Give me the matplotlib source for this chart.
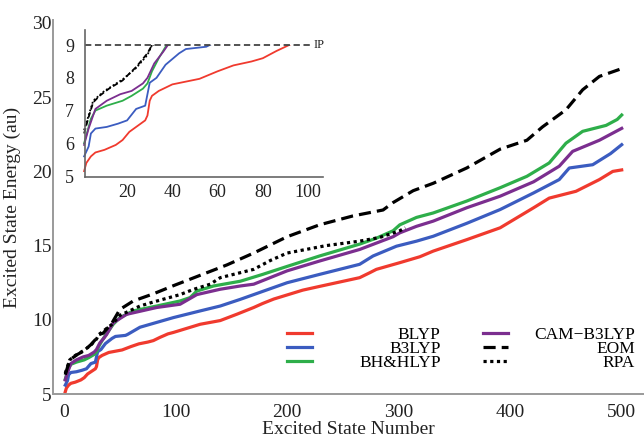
import numpy as np
import matplotlib
matplotlib.use("Agg")
import matplotlib.pyplot as plt
from matplotlib.patches import Rectangle

plt.rcParams['font.family'] = ['Liberation Serif', 'DejaVu Serif']
plt.rcParams['mathtext.fontset'] = 'stix'

# Excited-state energies (au) against state number, per method
blyp_n = [1, 2, 4, 6, 10, 15, 18, 21, 25, 28, 29, 30, 31, 34, 40, 52, 60, 67, 75, 80, 86, 90, 93,
          98, 122, 140, 155, 170, 178, 188, 214, 229, 265, 274, 280, 301, 319, 331, 361, 391,
          421, 435, 459, 480, 492, 500]
blyp_e = [5.15, 5.4, 5.6, 5.72, 5.8, 5.95, 6.1, 6.35, 6.55, 6.7, 6.85, 7.3, 7.45, 7.6, 7.8, 7.97,
          8.2, 8.38, 8.5, 8.6, 8.82, 8.95, 9.05, 9.15, 9.7, 9.95, 10.38, 10.83, 11.1, 11.4, 12.0,
          12.25, 12.84, 13.17, 13.4, 13.85, 14.25, 14.63, 15.4, 16.2, 17.55, 18.2, 18.66, 19.45,
          20.0, 20.1]

b3lyp_n = [1, 3, 4, 6, 11, 16, 20, 24, 28, 29, 30, 33, 37, 43, 46, 55, 57, 68, 98, 122, 140, 158,
           170, 185, 200, 229, 265, 277, 298, 316, 331, 361, 391, 421, 444, 453, 474, 490, 500]
b3lyp_e = [5.6, 5.9, 6.3, 6.45, 6.5, 6.6, 6.7, 7.05, 7.15, 7.5, 7.85, 8.0, 8.4, 8.75, 8.88, 8.95,
           9.02, 9.5, 10.15, 10.6, 10.93, 11.38, 11.7, 12.1, 12.5, 13.06, 13.74, 14.3, 14.96,
           15.3, 15.63, 16.5, 17.43, 18.55, 19.45, 20.23, 20.45, 21.2, 21.8]

bhhlyp_n = [1, 3, 4, 6, 11, 18, 22, 27, 29, 31, 34, 37, 38, 44, 50, 62, 83, 104, 113, 119, 134,
            158, 178, 200, 229, 265, 280, 295, 301, 316, 331, 361, 391, 415, 435, 450, 465, 486,
            496, 500]
bhhlyp_e = [6.0, 6.5, 6.75, 7.0, 7.15, 7.3, 7.45, 7.67, 7.83, 8.2, 8.6, 8.95, 9.05, 9.7, 10.15,
            10.6, 10.93, 11.27, 11.5, 11.94, 12.28, 12.6, 13.06, 13.6, 14.3, 15.1, 15.5, 16.0,
            16.4, 16.9, 17.2, 18.0, 18.9, 19.67, 20.57, 21.9, 22.7, 23.1, 23.5, 23.8]

cam_n = [1, 3, 6, 11, 17, 22, 27, 29, 32, 36, 38, 44, 56, 83, 104, 119, 140, 158, 170, 200, 229,
         265, 295, 301, 316, 331, 361, 391, 421, 444, 456, 480, 500]
cam_e = [5.95, 6.45, 7.05, 7.3, 7.5, 7.6, 7.83, 8.0, 8.44, 8.8, 9.0, 9.8, 10.37, 10.83, 11.05,
         11.7, 12.06, 12.28, 12.4, 13.3, 13.96, 14.74, 15.6, 15.86, 16.3, 16.65, 17.55, 18.33,
         19.3, 20.35, 21.35, 22.1, 22.9]

eom_n = [1, 3, 5, 8, 12, 18, 21, 24, 29, 31, 35, 43, 50, 62, 80, 98, 122, 146, 170, 200, 229, 259,
         286, 295, 313, 331, 361, 391, 415, 429, 450, 465, 480, 501]
eom_e = [6.3, 6.8, 7.25, 7.46, 7.67, 7.92, 8.13, 8.33, 8.75, 9.0, 9.1, 9.8, 10.7, 11.27, 11.75,
         12.3, 13.0, 13.7, 14.5, 15.6, 16.4, 17.0, 17.4, 17.9, 18.7, 19.2, 20.23, 21.5, 22.1,
         23.0, 24.15, 25.5, 26.4, 26.95]

rpa_n = [1, 3, 5, 10, 18, 24, 29, 31, 43, 50, 68, 80, 104, 116, 131, 140, 170, 185, 200, 235, 265,
         283, 301, 306]
rpa_e = [6.4, 6.85, 7.3, 7.6, 7.95, 8.3, 8.7, 9.0, 9.7, 10.3, 10.93, 11.2, 11.7, 12.05, 12.4,
         12.84, 13.4, 14.0, 14.5, 15.0, 15.3, 15.55, 16.0, 16.2]

ionization_potential = 9.0

series = [
    ("BLYP", blyp_n, blyp_e, "#f03a2e", "-"),
    ("B3LYP", b3lyp_n, b3lyp_e, "#3b5cc0", "-"),
    ("BH&HLYP", bhhlyp_n, bhhlyp_e, "#2eae4a", "-"),
    ("CAM\u2212B3LYP", cam_n, cam_e, "#7b2e8f", "-"),
    ("EOM", eom_n, eom_e, "black", (0, (3.8, 1.9))),
    ("RPA", rpa_n, rpa_e, "black", (0, (1.0, 1.1))),
]

fig = plt.figure(figsize=(6.44, 4.40), dpi=100)
ax = fig.add_axes([0.0823, 0.1045, 0.9177, 0.85])

lines = {}
for name, n, e, c, ls in series:
    ln, = ax.plot(n, e, color=c, lw=2.3, ls=ls, solid_joinstyle='round', label=name)
    lines[name] = ln

ax.set_xlim(-10, 520)
ax.set_ylim(5, 30.2)
ax.set_xticks([0, 100, 200, 300, 400, 500])
ax.set_yticks([5, 10, 15, 20, 25, 30])
ax.tick_params(axis='both', length=0, labelsize=14, colors='#222222')
ax.tick_params(axis='x', pad=7)
ax.tick_params(axis='y', pad=1)
for s in ('top', 'right'):
    ax.spines[s].set_visible(False)
for s in ('left', 'bottom'):
    ax.spines[s].set_color('#9a9a9a')
    ax.spines[s].set_linewidth(1.4)
ax.set_xlabel("Excited State Number", fontsize=14, labelpad=0, color='#222222')
ax.set_ylabel("Excited State Energy (au)", fontsize=14, labelpad=8, color='#222222')


# legend: two columns, labels right-aligned within each column
def right_align(leg):
    fig.canvas.draw()
    texts = leg.get_texts()
    widths = [t.get_window_extent().width for t in texts]
    w = max(widths)
    for t, tw in zip(texts, widths):
        t.set_position((w - tw, 0))


col1 = [lines[k] for k in ("BLYP", "B3LYP", "BH&HLYP")]
col2 = [lines[k] for k in ("CAM\u2212B3LYP", "EOM", "RPA")]
common = dict(loc='upper left', frameon=False, fontsize=12.5, handlelength=1.45,
              labelspacing=-0.12, borderpad=0, borderaxespad=0)
leg1 = ax.legend(col1, [l.get_label() for l in col1], bbox_to_anchor=(0.396, 0.179),
                 handletextpad=2.7, **common)
ax.add_artist(leg1)
leg2 = ax.legend(col2, [l.get_label() for l in col2], bbox_to_anchor=(0.7276, 0.179),
                 handletextpad=1.5, **common)
right_align(leg1)
right_align(leg2)

# inset: states below the ionization potential
axin = fig.add_axes([0.132, 0.5977, 0.3696, 0.334])
clip = Rectangle((-50, 0), 1000, ionization_potential, transform=axin.transData)
inset_style = {"EOM": (0, (3.0, 1.6)), "RPA": (0, (1.0, 1.2))}
for name, n, e, c, ls in series:
    ln, = axin.plot(n, e, color=c, lw=1.3, ls=inset_style.get(name, '-'))
    ln.set_clip_path(clip)
axin.set_xlim(1.4, 106.6)
axin.set_ylim(4.97, 9.46)
axin.axhline(ionization_potential, xmin=0, xmax=(102.3 - 1.4) / (106.6 - 1.4),
             color='#444444', lw=1.3, ls=(0, (3.5, 2.0)))
axin.text(102.6, ionization_potential, "IP", fontsize=9, va='center', ha='left',
          color='#222222', clip_on=False)
axin.set_xticks([20, 40, 60, 80, 100])
axin.set_yticks([5, 6, 7, 8, 9])
axin.tick_params(axis='both', length=0, labelsize=13, colors='#222222')
axin.tick_params(axis='y', pad=8)
axin.tick_params(axis='x', pad=5)
axin.patch.set_alpha(0)
for s in ('top', 'right'):
    axin.spines[s].set_visible(False)
for s in ('left', 'bottom'):
    axin.spines[s].set_color('#666666')
    axin.spines[s].set_linewidth(1.2)

fig.savefig("out.png", dpi=100)
